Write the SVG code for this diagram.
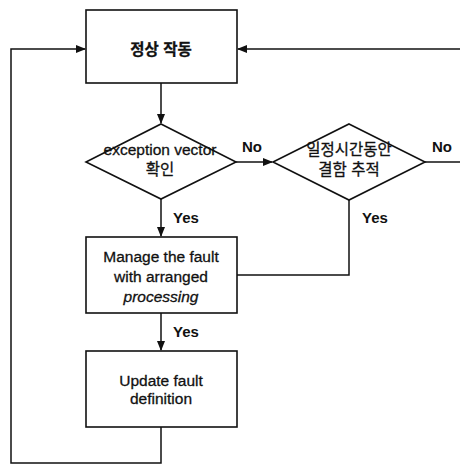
<svg xmlns="http://www.w3.org/2000/svg" width="460" height="464" viewBox="0 0 460 464">
<style>
.shape{fill:#fff;stroke:#111;stroke-width:1.6}
.conn{fill:none;stroke:#111;stroke-width:1.5}
text{font-family:"Liberation Sans","Noto Sans CJK KR",Arial,sans-serif;font-size:15.5px;fill:#111;stroke:#111;stroke-width:0.3;text-anchor:middle}
.lbl{font-size:15px;font-weight:bold;stroke-width:0;text-anchor:start}
</style>
<defs>
<marker id="ah" markerWidth="10" markerHeight="8" refX="9" refY="4" orient="auto" markerUnits="userSpaceOnUse">
<path d="M0,0 L10,4 L0,8 Z" fill="#111"/>
</marker>
</defs>
<rect width="460" height="464" fill="#fff"/>
<g id="connectors">
<path class="conn" d="M161,83 L161,123" marker-end="url(#ah)"/>
<path class="conn" d="M236,162 L272,162" marker-end="url(#ah)"/>
<path class="conn" d="M425,162 L460,162"/>
<path class="conn" d="M460,49 L238,49" marker-end="url(#ah)"/>
<path class="conn" d="M161,199 L161,236" marker-end="url(#ah)"/>
<path class="conn" d="M349,200 L349,275 L237,275"/>
<path class="conn" d="M161,313 L161,350" marker-end="url(#ah)"/>
<path class="conn" d="M161,427 L161,463 L11,463 L11,49 L85,49" marker-end="url(#ah)"/>
<text class="lbl" x="242" y="152">No</text>
<text class="lbl" x="432" y="152">No</text>
<text class="lbl" x="173" y="223">Yes</text>
<text class="lbl" x="362" y="223">Yes</text>
<text class="lbl" x="173" y="337">Yes</text>
</g>
<g id="normal-operation">
<rect class="shape" x="86" y="10" width="151" height="73"/>
<text x="161" y="55" font-weight="bold" stroke-width="0">정상 작동</text>
</g>
<g id="check-exception-vector">
<path class="shape" d="M161,124 L236,162 L161,199 L86,162 Z"/>
<text x="160" y="155">exception vector</text>
<text x="160" y="175">확인</text>
</g>
<g id="trace-fault">
<path class="shape" d="M349,124 L425,162 L349,200 L273,162 Z"/>
<text x="349" y="155">일정시간동안</text>
<text x="349" y="175">결함 추적</text>
</g>
<g id="manage-fault">
<rect class="shape" x="86" y="237" width="151" height="76"/>
<text x="161" y="262">Manage the fault</text>
<text x="161" y="282">with arranged</text>
<text x="161" y="302" font-style="italic">processing</text>
</g>
<g id="update-fault">
<rect class="shape" x="86" y="351" width="151" height="76"/>
<text x="161" y="386">Update fault</text>
<text x="161" y="404">definition</text>
</g>
</svg>
